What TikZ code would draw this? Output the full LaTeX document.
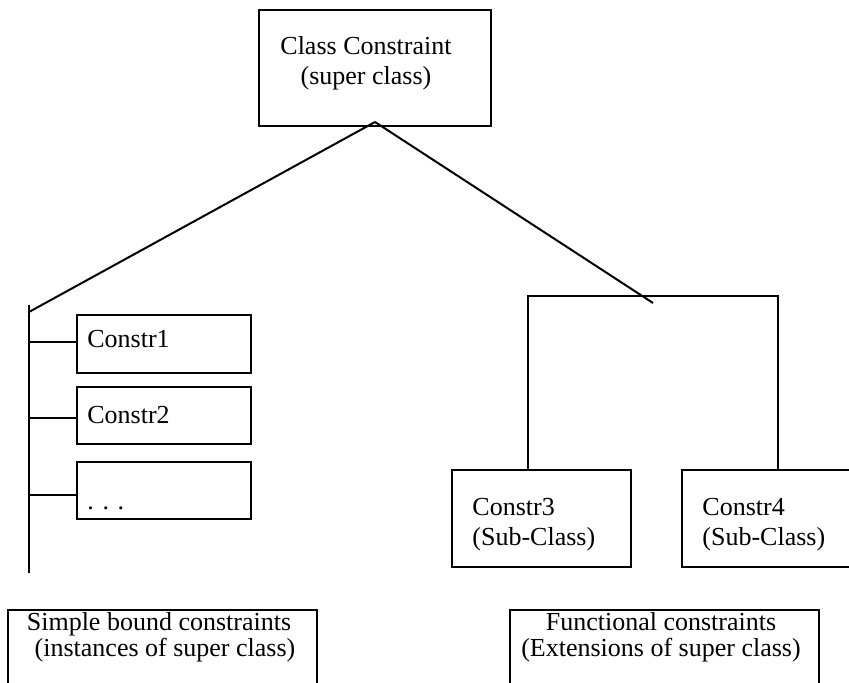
\documentclass[tikz,border=0pt]{standalone}
\usepackage{fontspec}
\setmainfont{Liberation Serif}
\begin{document}
\begin{tikzpicture}[x=0.5pt,y=-0.5pt,
  box/.style={draw, line width=1pt, rectangle, inner sep=0pt},
  conn/.style={line width=1pt},
  lbl/.style={inner sep=0pt, font=\fontsize{13}{15}\selectfont}]
\useasboundingbox (0,0) rectangle (849,683);
\clip (0,0) rectangle (849,683);
% boxes
\node[box, minimum width=116pt, minimum height=58pt] (top) at (375,68) {};
\node[box, minimum width=87pt, minimum height=29pt] (c1) at (164,344) {};
\node[box, minimum width=87pt, minimum height=28.5pt] (c2) at (164,415.5) {};
\node[box, minimum width=87pt, minimum height=28.5pt] (cx) at (164,490.5) {};
\node[box, minimum width=89.5pt, minimum height=48.5pt] (c3) at (541.5,518.5) {};
\node[box, minimum width=89.5pt, minimum height=48.5pt] (c4) at (771.5,518.5) {};
\node[box, minimum width=154.5pt, minimum height=45pt] (simple) at (162.5,655) {};
\node[box, minimum width=154.5pt, minimum height=45pt] (func) at (664.5,655) {};
% texts
\node[lbl, anchor=base] (t1) at (366,55) {Class Constraint};
\node[lbl, anchor=base] (t2) at (366,85) {(super class)};
\node[lbl, anchor=base west] (c1t) at (87,348) {Constr1};
\node[lbl, anchor=base west] (c2t) at (87,423) {Constr2};
\node[lbl, anchor=base west] (cxt) at (87,509) {. . .};
\node[lbl, anchor=base west] (c3a) at (472,515) {Constr3};
\node[lbl, anchor=base west] (c3b) at (472,545) {(Sub-Class)};
\node[lbl, anchor=base west] (c4a) at (702,515) {Constr4};
\node[lbl, anchor=base west] (c4b) at (702,545) {(Sub-Class)};
\node[lbl, anchor=base] (s1) at (159,630) {Simple bound constraints};
\node[lbl, anchor=base] (s2) at (165,656) {(instances of super class)};
\node[lbl, anchor=base] (f1) at (661,630) {Functional constraints};
\node[lbl, anchor=base] (f2) at (661,656) {(Extensions of super class)};
% coordinates
\coordinate (apex) at (375,122);
\coordinate (sj) at (29,312);
\coordinate (spTop) at (29,305);
\coordinate (spBot) at (29,573);
\coordinate (b1) at (29,342);
\coordinate (b2) at (29,418);
\coordinate (b3) at (29,495);
\coordinate (rend) at (653,303);
\coordinate (bl) at (528,296);
\coordinate (brr) at (778,296);
% connectors
\draw[conn] (apex) -- (sj);
\draw[conn] (apex) -- (rend);
\draw[conn] (spTop) -- (spBot);
\draw[conn] (b1) -- (b1 -| c1.west);
\draw[conn] (b2) -- (b2 -| c2.west);
\draw[conn] (b3) -- (b3 -| cx.west);
\draw[conn] (bl |- c3.north) -- (bl) -- (brr) -- (brr |- c4.north);
\end{tikzpicture}
\end{document}
